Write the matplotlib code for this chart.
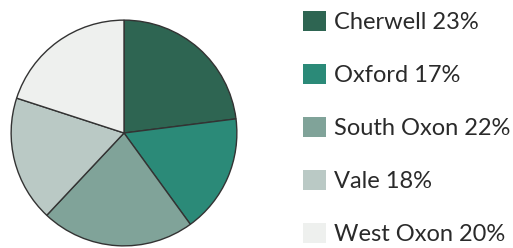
import matplotlib
matplotlib.use("Agg")
from matplotlib import pyplot as plt

# 数据
districts = ["Cherwell", "Oxford", "South Oxon", "Vale", "West Oxon"]
shares = [23, 17, 22, 18, 20]
colors = ["#2e6552", "#2b8a78", "#80a399", "#bac9c5", "#eef0ee"]

plt.rcParams['font.family'] = ['Lato', 'DejaVu Sans']

fig = plt.figure(figsize=(5.13, 2.48), dpi=100)
fig.patch.set_facecolor("white")

ax = fig.add_axes([10 / 513, 1 / 248, 228 / 513, 228 / 248])
wedges, _ = ax.pie(shares, colors=colors, startangle=90, counterclock=False,
                   wedgeprops=dict(edgecolor="#333333", linewidth=1.0))
ax.set_xlim(-1.01, 1.01)
ax.set_ylim(-1.01, 1.01)
ax.set_aspect("equal")

labels = ["%s %d%%" % (d, s) for d, s in zip(districts, shares)]
leg = fig.legend(wedges, labels, loc="upper left", bbox_to_anchor=(296 / 513, 0.985),
                 frameon=False, fontsize=17, handlelength=0.95, handleheight=0.95,
                 handletextpad=0.35, labelspacing=1.3, borderaxespad=0, borderpad=0.3)
for h in leg.legend_handles:
    h.set_edgecolor("none")
for t in leg.get_texts():
    t.set_color("#2a2a2a")

plt.savefig("out.png", dpi=100)
